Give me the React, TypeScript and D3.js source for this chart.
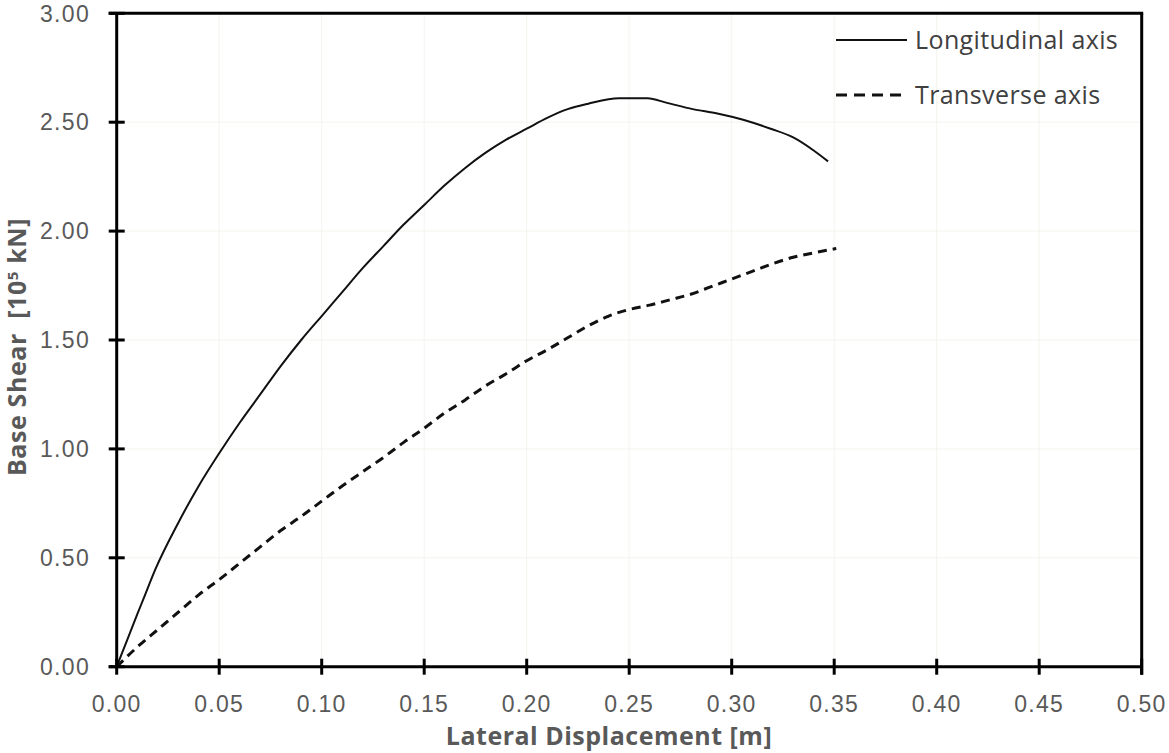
import React from "react";
import * as d3 from "d3";

const longitudinalX = [0, 0.005, 0.01, 0.013, 0.019, 0.03, 0.04, 0.05, 0.06, 0.07, 0.08, 0.09, 0.1, 0.11, 0.12, 0.13, 0.14, 0.15, 0.16, 0.17, 0.18, 0.19, 0.2, 0.21, 0.22, 0.23, 0.245, 0.259, 0.268, 0.281, 0.293, 0.306, 0.319, 0.33, 0.34, 0.347];
const longitudinalY = [0, 0.12, 0.24, 0.31, 0.45, 0.66, 0.83, 0.98, 1.12, 1.25, 1.38, 1.5, 1.61, 1.72, 1.83, 1.93, 2.03, 2.12, 2.21, 2.29, 2.36, 2.42, 2.47, 2.52, 2.56, 2.585, 2.61, 2.61, 2.59, 2.56, 2.54, 2.51, 2.47, 2.43, 2.37, 2.32];

const transverseX = [0, 0.01, 0.02, 0.03, 0.04, 0.05, 0.06, 0.07, 0.08, 0.09, 0.1, 0.11, 0.12, 0.13, 0.14, 0.15, 0.16, 0.17, 0.18, 0.19, 0.2, 0.21, 0.22, 0.23, 0.24, 0.25, 0.26, 0.27, 0.28, 0.29, 0.3, 0.31, 0.32, 0.33, 0.34, 0.351];
const transverseY = [0, 0.09, 0.17, 0.25, 0.33, 0.4, 0.475, 0.55, 0.625, 0.69, 0.76, 0.83, 0.895, 0.96, 1.03, 1.095, 1.165, 1.225, 1.29, 1.345, 1.405, 1.455, 1.51, 1.565, 1.61, 1.64, 1.66, 1.685, 1.71, 1.745, 1.78, 1.815, 1.85, 1.88, 1.9, 1.92];

const xTicks = [0, 0.05, 0.1, 0.15, 0.2, 0.25, 0.3, 0.35, 0.4, 0.45, 0.5];
const yTicks = [0, 0.5, 1, 1.5, 2, 2.5, 3];

const seriesNames = ["Longitudinal axis", "Transverse axis"];
const xTitle = "Lateral Displacement [m]";

export default function App() {
  const W = 1169, H = 753;
  const left = 116.7, right = 1141.7, top = 13.3, bottom = 666.7;
  const x = d3.scaleLinear().domain([0, 0.5]).range([left, right]);
  const y = d3.scaleLinear().domain([0, 3]).range([bottom, top]);
  const line = d3.line<[number, number]>().x(d => x(d[0])).y(d => y(d[1])).curve(d3.curveMonotoneX);
  const lon = longitudinalX.map((v, i) => [v, longitudinalY[i]] as [number, number]);
  const tra = transverseX.map((v, i) => [v, transverseY[i]] as [number, number]);
  const tickFont = "'Liberation Sans', Arial, sans-serif";
  const textFont = "'Open Sans', Lato, sans-serif";
  const gray = "#595959";

  return (
    <svg width={W} height={H} style={{ position: "absolute", left: 0, top: 0, background: "#fff" }}>
      {xTicks.slice(1, -1).map(t => (
        <line key={"gx" + t} x1={x(t)} x2={x(t)} y1={top} y2={bottom} stroke="#f3f3ee" strokeWidth={1} />
      ))}
      {yTicks.slice(1, -1).map(t => (
        <line key={"gy" + t} x1={left} x2={right} y1={y(t)} y2={y(t)} stroke="#f3f3ee" strokeWidth={1} />
      ))}

      <path d={line(lon) || ""} fill="none" stroke="#111" strokeWidth={2} />
      <path d={line(tra) || ""} fill="none" stroke="#111" strokeWidth={3} strokeDasharray="9 6" />

      <line x1={left} x2={left} y1={top} y2={bottom} stroke="#000" strokeWidth={3} />
      <line x1={left - 8} x2={right} y1={bottom} y2={bottom} stroke="#000" strokeWidth={3} />
      <line x1={left - 8} x2={right + 1.5} y1={top} y2={top} stroke="#000" strokeWidth={3} />
      <line x1={right} x2={right} y1={top} y2={bottom + 8} stroke="#000" strokeWidth={3} />

      {yTicks.map(t => (
        <g key={"yt" + t}>
          <line x1={left - 8} x2={left + 8} y1={y(t)} y2={y(t)} stroke="#000" strokeWidth={3} />
          <text x={90} y={y(t)} dy="0.36em" textAnchor="end" fontFamily={tickFont} fontSize={23} letterSpacing={1.3} fill={gray}>
            {d3.format(".2f")(t)}
          </text>
        </g>
      ))}
      {xTicks.map(t => (
        <g key={"xt" + t}>
          <line x1={x(t)} x2={x(t)} y1={bottom - 8} y2={bottom + 8} stroke="#000" strokeWidth={3} />
          <text x={x(t)} y={712} textAnchor="middle" fontFamily={tickFont} fontSize={23} letterSpacing={1.3} fill={gray}>
            {d3.format(".2f")(t)}
          </text>
        </g>
      ))}

      <text x={609} y={745} textAnchor="middle" fontFamily={textFont} fontWeight="bold" fontSize={25} letterSpacing={0.5} fill={gray}>
        {xTitle}
      </text>
      <text transform="translate(26,347) rotate(-90)" textAnchor="middle" fontFamily={textFont} fontWeight="bold" fontSize={25} letterSpacing={0.6} fill={gray} style={{ whiteSpace: "pre" }}>
        {"Base Shear  [10"}<tspan fontSize={15} dy={-8}>5</tspan><tspan dy={8}>{" kN]"}</tspan>
      </text>

      <line x1={836} x2={907} y1={40} y2={40} stroke="#111" strokeWidth={2} />
      <text x={915} y={40} dy="0.35em" fontFamily={textFont} fontSize={25} letterSpacing={0.4} fill="#404040">{seriesNames[0]}</text>
      <line x1={836} x2={907} y1={95} y2={95} stroke="#111" strokeWidth={3} strokeDasharray="11 7" />
      <text x={915} y={95} dy="0.35em" fontFamily={textFont} fontSize={25} letterSpacing={0.4} fill="#404040">{seriesNames[1]}</text>
    </svg>
  );
}
